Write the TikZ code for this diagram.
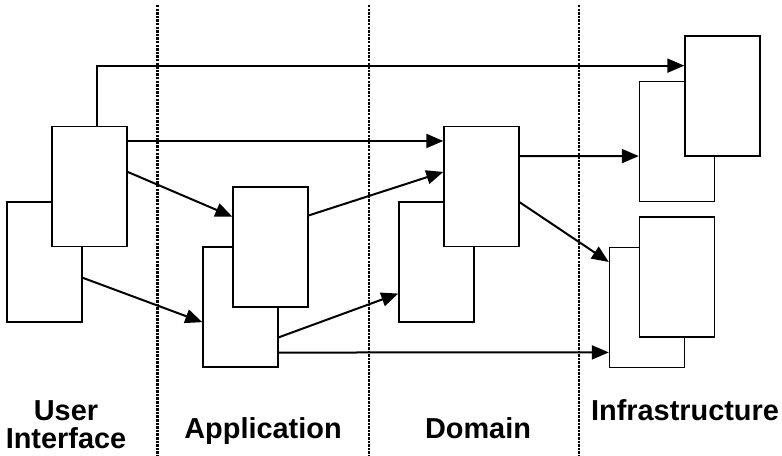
\documentclass[tikz,border=0pt]{standalone}
\usepackage{fontspec}
\setmainfont{Liberation Sans}
\usetikzlibrary{arrows.meta,calc}
\begin{document}
\begin{tikzpicture}[x=1bp,y=-1bp,
  tier/.style={draw=black,fill=white,line width=1.4bp,minimum width=75bp,minimum height=120bp,inner sep=0pt},
  dep/.style={line width=2bp,-{Triangle[length=17bp,width=14bp]}},
  divider/.style={line width=2.4bp,dash pattern=on 2.5bp off 1.1bp},
  caption/.style={font=\fontsize{29}{28}\selectfont\bfseries,align=center,inner sep=0pt}]
    \useasboundingbox (0,0) rectangle (782,456);
    % back boxes first, front boxes on top
    \node[tier] (uiBack)  at (44.5,262) {};
    \node[tier] (uiFront) at (89.5,186.5) {};
    \node[tier] (appBack)  at (240.5,307) {};
    \node[tier] (appFront) at (270.5,247) {};
    \node[tier] (domBack)  at (436.5,262) {};
    \node[tier] (domFront) at (481.5,186.5) {};
    \node[tier] (infTopBack)  at (677,141.5) {};
    \node[tier] (infTopFront) at (722.5,96) {};
    \node[tier] (infBotBack)  at (647,307.5) {};
    \node[tier] (infBotFront) at (677,277) {};
    % dependencies
    \draw[dep] ($(uiFront.north west)!.6!(uiFront.north east)$) |- ($(infTopFront.north west)!.25!(infTopFront.south west)$);
    \draw[dep] ($(uiFront.north east)!.125!(uiFront.south east)$) -- ($(domFront.north west)!.125!(domFront.south west)$);
    \draw[dep] ($(uiFront.north east)!.38!(uiFront.south east)$) -- ($(appFront.north west)!.25!(appFront.south west)$);
    \draw[dep] ($(uiBack.north east)!.63!(uiBack.south east)$) -- ($(appBack.north west)!.625!(appBack.south west)$);
    \draw[dep] ($(appFront.north east)!.24!(appFront.south east)$) -- ($(domFront.north west)!.38!(domFront.south west)$);
    \draw[dep] ($(appBack.north east)!.75!(appBack.south east)$) -- ($(domBack.north west)!.76!(domBack.south west)$);
    \draw[dep] ($(appBack.north east)!.875!(appBack.south east)$) -- ($(infBotBack.north west)!.87!(infBotBack.south west)$);
    \draw[dep] ($(domFront.north east)!.25!(domFront.south east)$) -- ($(infTopBack.north west)!.62!(infTopBack.south west)$);
    \draw[dep] ($(domFront.north east)!.63!(domFront.south east)$) -- ($(infBotBack.north west)!.125!(infBotBack.south west)$);
    % tier borders
    \foreach \x in {157.5,369,579}
        \draw[divider] (\x,5) -- (\x,456);
    \node[caption,anchor=base] (uiLabel)  at (66,448)  {User\\Interface};
    \node[caption,anchor=base] (appLabel) at (263,438) {Application};
    \node[caption,anchor=base] (domLabel) at (478,438) {Domain};
    \node[caption,anchor=base] (infLabel) at (685,420) {Infrastructure};
\end{tikzpicture}
\end{document}
